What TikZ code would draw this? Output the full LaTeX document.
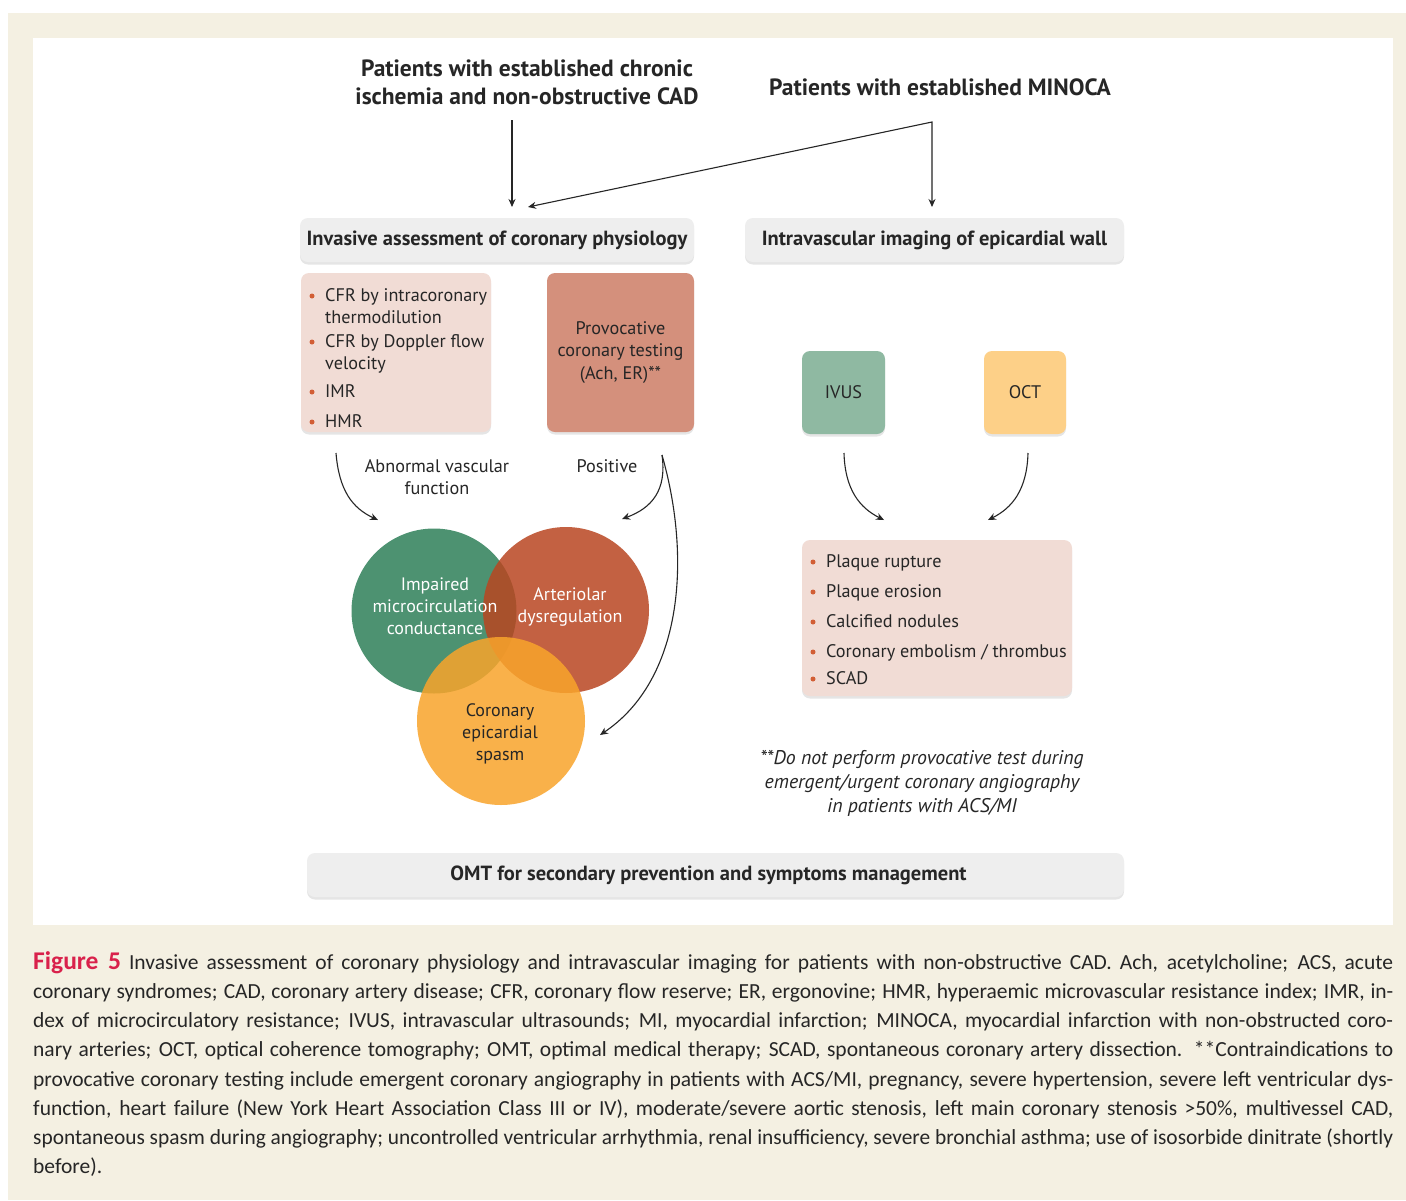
\documentclass[tikz,border=0pt]{standalone}
\usepackage{fontspec}
\usepackage{graphicx}
\setmainfont{PT Sans}
\newfontfamily\capfont{Carlito}
\usetikzlibrary{arrows.meta,shadows}
\definecolor{bgbeige}{HTML}{F4F0E2}
\definecolor{boxgrey}{HTML}{EEEEEE}
\definecolor{pinkbox}{HTML}{F1DCD5}
\definecolor{provbox}{HTML}{D4907C}
\definecolor{ivusc}{HTML}{8FB9A2}
\definecolor{octc}{HTML}{FDD088}
\definecolor{bulletc}{HTML}{D25E35}
\definecolor{txt}{HTML}{262626}
\definecolor{greenc}{HTML}{2F7F59}
\definecolor{redc}{HTML}{B94621}
\definecolor{orangec}{HTML}{F9A42B}
\definecolor{figred}{HTML}{D9214B}
\newcommand\capline[1]{\sbox0{#1}\ifdim\wd0>1360pt\relax\pgfmathsetmacro\capr{1360/\wd0}\scalebox{\capr}[1]{\usebox0}\else\makebox[1360pt][s]{#1}\fi}
\tikzset{
  shade/.style={drop shadow={shadow xshift=0pt,shadow yshift=-2.5pt,opacity=0.10,fill=black}},
  greybox/.style={fill=boxgrey,rounded corners=8pt,minimum height=44pt,inner sep=0pt,text=txt,font=\bfseries\fontsize{20.5}{24}\selectfont,shade},
  colbox/.style={rounded corners=8pt,inner sep=0pt,shade},
  title/.style={align=center,text=txt,font=\bfseries\fontsize{23.5}{28}\selectfont},
  body/.style={text=txt,font=\fontsize{18.2}{22.5}\selectfont,inner sep=0pt},
  item/.style={body,anchor=base west},
  bul/.style={circle,fill=bulletc,inner sep=0pt,minimum size=5pt},
  venn/.style={circle,inner sep=0pt,fill opacity=0.85},
  venntext/.style={align=center,font=\fontsize{18}{22}\selectfont},
  arr/.style={draw=black!85,line width=1.1pt,-{Stealth[length=8pt,width=7pt]}},
  capt/.style={anchor=base west,inner sep=0pt,text=txt,font=\capfont\fontsize{21.5}{24}\selectfont}
}
\begin{document}
\begin{tikzpicture}[x=1pt,y=-1pt]
\useasboundingbox (0,0) rectangle (1406,1200);
\fill[white] (0,0) rectangle (1406,1200);
\fill[bgbeige] (8,13) rectangle (1406,1200);
\fill[white] (33,38) rectangle (1393,925);

% titles
\node[title] (t1) at (527,82) {Patients with established chronic\\ischemia and non-obstructive CAD};
\node[title] (t2) at (940,87) {Patients with established MINOCA};

% main boxes
\node[greybox,minimum width=394pt] (inv) at (497,240) {Invasive assessment of coronary physiology};
\node[greybox,minimum width=379pt] (ivi) at (934.5,240) {Intravascular imaging of epicardial wall};

% top arrows
\coordinate (a1s) at (512,120);
\coordinate (a1e) at (512,207);
\coordinate (split) at (932,122);
\coordinate (a2e) at (528,207);
\coordinate (a3e) at (932,207);
\draw[arr] (a1s) -- (a1e);
\draw[draw=black!85,line width=1.1pt,{Stealth[length=8pt,width=7pt]}-{Stealth[length=8pt,width=7pt]}] (a2e) -- (split) -- (a3e);

% pink list box left
\node[colbox,fill=pinkbox,minimum width=190pt,minimum height=159pt] (cfr) at (396,352.5) {};
\node[item] (i1) at (325,301) {CFR by intracoronary};
\node[item] (i1b) at (325,323) {thermodilution};
\node[item] (i2) at (325,347) {CFR by Doppler flow};
\node[item] (i2b) at (325,369) {velocity};
\node[item] (i3) at (325,397) {IMR};
\node[item] (i4) at (325,427) {HMR};
\node[bul] (b1) at (312,296) {};
\node[bul] (b2) at (312,342) {};
\node[bul] (b3) at (312,392) {};
\node[bul] (b4) at (312,422) {};

% provocative
\node[colbox,fill=provbox,minimum width=147pt,minimum height=159pt,body,align=center] (prov) at (620.5,352.5) {Provocative\\coronary testing\\(Ach, ER)**};

% labels
\node[body,align=center] (lab1) at (437,477) {Abnormal vascular\\function};
\node[body] (lab2) at (607,466) {Positive};

% venn circles
\node[venn,fill=greenc,minimum size=165pt] (green) at (434,611) {};
\node[venn,fill=redc,minimum size=166pt] (red) at (566,610) {};
\node[venn,fill=orangec,minimum size=168pt] (orange) at (501,721) {};
\node[venntext,text=white] (gt) at (435,606) {Impaired\\microcirculation\\conductance};
\node[venntext,text=white] (rt) at (570,607) {Arteriolar\\dysregulation};
\node[venntext,text=txt] (ot) at (500,734) {Coronary\\epicardial\\spasm};

% curved arrows left
\coordinate (c1s) at (336,453);
\coordinate (c1e) at (378,520);
\coordinate (c2s) at (662,455);
\coordinate (c2e) at (622,519);
\coordinate (c3e) at (600,735);
\draw[arr] (c1s) .. controls (339,490) and (352,508) .. (c1e);
\draw[arr] (c2s) .. controls (667,490) and (652,508) .. (c2e);
\draw[arr] (c2s) .. controls (692,560) and (682,680) .. (c3e);

% right side
\node[colbox,fill=ivusc,minimum width=83pt,minimum height=83pt,body] (ivus) at (843.5,392.5) {IVUS};
\node[colbox,fill=octc,minimum width=82pt,minimum height=83pt,body] (oct) at (1025,392.5) {OCT};
\coordinate (d1s) at (844,453);
\coordinate (d1e) at (884,520);
\coordinate (d2s) at (1028,453);
\coordinate (d2e) at (988,520);
\draw[arr] (d1s) .. controls (845,490) and (860,508) .. (d1e);
\draw[arr] (d2s) .. controls (1027,490) and (1012,508) .. (d2e);

\node[colbox,fill=pinkbox,minimum width=270pt,minimum height=156pt] (find) at (937,618) {};
\node[item] (f1) at (826,567) {Plaque rupture};
\node[item] (f2) at (826,597) {Plaque erosion};
\node[item] (f3) at (826,627) {Calcified nodules};
\node[item] (f4) at (826,657) {Coronary embolism / thrombus};
\node[item] (f5) at (826,684) {SCAD};
\node[bul] (e1) at (813,562) {};
\node[bul] (e2) at (813,592) {};
\node[bul] (e3) at (813,622) {};
\node[bul] (e4) at (813,652) {};
\node[bul] (e5) at (813,679) {};

\node[body,align=center,font=\itshape\fontsize{19.8}{24}\selectfont] (note) at (922,783) {**Do not perform provocative test during\\emergent/urgent coronary angiography\\in patients with ACS/MI};

% OMT
\node[greybox,minimum width=817pt] (omt) at (715.5,875) {\hspace*{-14pt}OMT for secondary prevention and symptoms management};

% caption
\node[capt] (cap1) at (33,969) {\capline{{\bfseries\color{figred}\fontsize{25.5}{24}\selectfont Figure 5} Invasive assessment of coronary physiology and intravascular imaging for patients with non-obstructive CAD. Ach, acetylcholine; ACS, acute}};
\node[capt] (cap2) at (33,998) {\capline{coronary syndromes; CAD, coronary artery disease; CFR, coronary flow reserve; ER, ergonovine; HMR, hyperaemic microvascular resistance index; IMR, in-}};
\node[capt] (cap3) at (33,1027) {\capline{dex of microcirculatory resistance; IVUS, intravascular ultrasounds; MI, myocardial infarction; MINOCA, myocardial infarction with non-obstructed coro-}};
\node[capt] (cap4) at (33,1056) {\capline{nary arteries; OCT, optical coherence tomography; OMT, optimal medical therapy; SCAD, spontaneous coronary artery dissection. **Contraindications to}};
\node[capt] (cap5) at (33,1086) {\capline{provocative coronary testing include emergent coronary angiography in patients with ACS/MI, pregnancy, severe hypertension, severe left ventricular dys-}};
\node[capt] (cap6) at (33,1115) {\capline{function, heart failure (New York Heart Association Class III or IV), moderate/severe aortic stenosis, left main coronary stenosis >50\%, multivessel CAD,}};
\node[capt] (cap7) at (33,1144) {\capline{spontaneous spasm during angiography; uncontrolled ventricular arrhythmia, renal insufficiency, severe bronchial asthma; use of isosorbide dinitrate (shortly}};
\node[capt] (cap8) at (33,1173) {before).};
\end{tikzpicture}
\end{document}
